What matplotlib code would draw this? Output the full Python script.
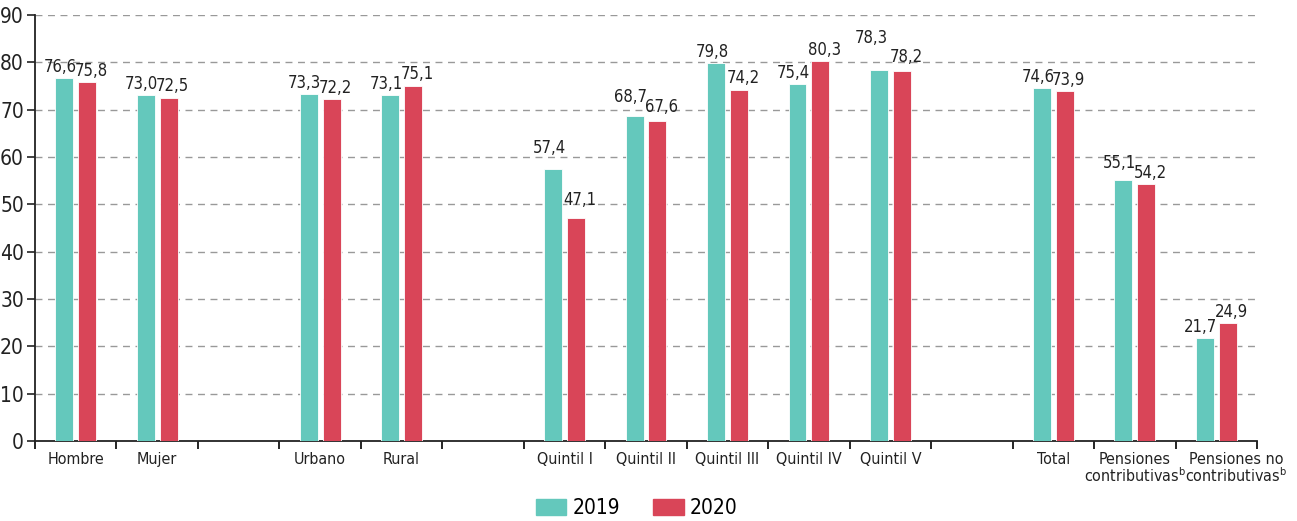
import matplotlib.pyplot as plt
import numpy as np
from matplotlib.patches import Patch
from matplotlib.transforms import ScaledTranslation

plt.rcParams['font.family'] = ['DejaVu Sans']
plt.rcParams['font.stretch'] = 'condensed'
plt.rcParams['mathtext.fontset'] = 'dejavusans'

# categories ('' = empty slot between groups)
categories = ['Hombre', 'Mujer', '', 'Urbano', 'Rural', '',
              'Quintil I', 'Quintil II', 'Quintil III', 'Quintil IV', 'Quintil V', '',
              'Total', 'Pensiones\ncontributivas$^{\\mathrm{b}}$',
              'Pensiones no\ncontributivas$^{\\mathrm{b}}$']
v2019 = [76.6, 73.0, None, 73.3, 73.1, None,
         57.4, 68.7, 79.8, 75.4, 78.3, None,
         74.6, 55.1, 21.7]
v2020 = [75.8, 72.5, None, 72.2, 75.1, None,
         47.1, 67.6, 74.2, 80.3, 78.2, None,
         73.9, 54.2, 24.9]
years = ['2019', '2020']
colors = ['#64C8BC', '#D94558']

# extra lift of a few value labels (in data units) to keep them apart
lift2019 = [0, 0, 0, 0, 0, 0, 2, 1.5, 0, 0, 4.5, 0, 0, 1.2, 0]
lift2020 = [0, 0, 0, 0, 0, 0, 1.5, 0.5, 0, 0, 0.5, 0, 0, 0, 0]

fig = plt.figure(figsize=(12.97, 5.21), dpi=100)
ax = fig.add_axes([35 / 1297, 80 / 521, 1222 / 1297, 426 / 521])

x = np.arange(len(categories)) + 0.5
bw = 0.22
off = 0.14


def fmt(v):
    return f'{v:.1f}'.replace('.', ',')


for vals, lifts, dx, lx, c in [(v2019, lift2019, -off, -0.05, colors[0]),
                               (v2020, lift2020, off, 0.05, colors[1])]:
    for i, (xi, v) in enumerate(zip(x, vals)):
        if v is None:
            continue
        ax.bar(xi + dx, v, width=bw, color=c, edgecolor='white', linewidth=0.6, zorder=3)
        shift = lx * 2 if lifts[i] > 3 else lx
        ax.text(xi + dx + shift, v + 0.5 + lifts[i], fmt(v), ha='center', va='bottom',
                fontsize=12, color='#222222', zorder=4)

ax.set_xlim(0, len(categories))
ax.set_ylim(0, 90)
ax.set_yticks(range(0, 91, 10))
ax.tick_params(axis='y', labelsize=15, length=6, width=1.2, pad=2, colors='#222222')

# category labels in slot centers, tick marks on slot boundaries
ax.set_xticks(x)
ax.set_xticklabels(categories, fontsize=11.5, color='#222222', linespacing=0.95)
ax.tick_params(axis='x', length=0, pad=8)
ax.set_xticks(np.arange(len(categories) + 1), minor=True)
ax.tick_params(axis='x', which='minor', length=6, width=1.2, direction='out')

last = ax.get_xticklabels()[-1]
last.set_transform(last.get_transform() + ScaledTranslation(0.2, 0, fig.dpi_scale_trans))

for y in range(10, 91, 10):
    ax.axhline(y, color='#999999', linestyle=(0, (5, 4)), linewidth=1, zorder=1)

for s in ['top', 'right']:
    ax.spines[s].set_visible(False)
for s in ['left', 'bottom']:
    ax.spines[s].set_linewidth(1.3)
    ax.spines[s].set_color('#222222')

handles = [Patch(color=c, label=l) for c, l in zip(colors, years)]
fig.legend(handles=handles, loc='center', ncol=2, frameon=False,
           fontsize=15, bbox_to_anchor=(0.491, 0.025), handlelength=1.45,
           handleheight=0.8, columnspacing=1.6, handletextpad=0.3)

fig.savefig('out.png', dpi=100)
